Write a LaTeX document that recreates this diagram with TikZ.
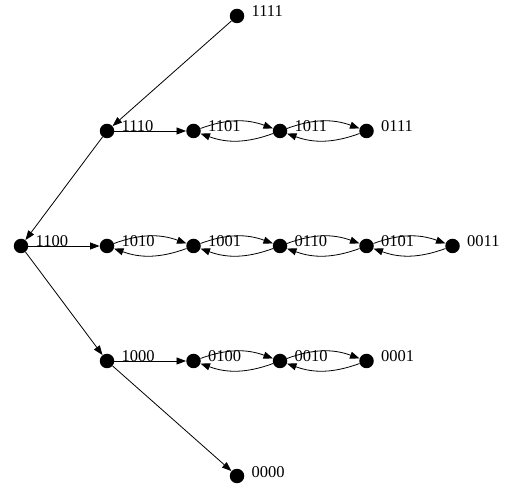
\documentclass[tikz,border=0pt]{standalone}
\usepackage{fontspec}
\setmainfont{Liberation Serif}
\usetikzlibrary{arrows.meta}
\begin{document}
\begin{tikzpicture}[x=1pt,y=1pt,
  st/.style={circle,fill=black,draw=none,minimum size=14.5pt,inner sep=0pt},
  lab/.style={anchor=base west,inner sep=0pt,font=\fontsize{16.5}{18}\selectfont},
  edge/.style={line width=0.8pt,-{Triangle[length=9.5pt,width=7pt]}},
  upc/.style={edge,bend left=20},
  loc/.style={edge,bend left=20}]
\useasboundingbox (0,0) rectangle (510,489);
\def\rA{473}\def\rB{358}\def\rC{243}\def\rD{128}\def\rE{13}
\node[st] (n1111) at (237,\rA) {};
\node[st] (n1110) at (107,\rB) {};
\node[st] (n1101) at (193.5,\rB) {};
\node[st] (n1011) at (280,\rB) {};
\node[st] (n0111) at (366.5,\rB) {};
\node[st] (n1100) at (21,\rC) {};
\node[st] (n1010) at (107,\rC) {};
\node[st] (n1001) at (193.5,\rC) {};
\node[st] (n0110) at (280,\rC) {};
\node[st] (n0101) at (366.5,\rC) {};
\node[st] (n0011) at (452.5,\rC) {};
\node[st] (n1000) at (107,\rD) {};
\node[st] (n0100) at (193.5,\rD) {};
\node[st] (n0010) at (280,\rD) {};
\node[st] (n0001) at (366.5,\rD) {};
\node[st] (n0000) at (237,\rE) {};
\foreach \n in {1111,1110,1101,1011,0111,1100,1010,1001,0110,0101,0011,1000,0100,0010,0001,0000}{
  \node[lab] (l\n) at ([xshift=14.5pt,yshift=-1pt]n\n.center) {\n};
}
\draw[edge] (n1111) -- (n1110);
\draw[edge] (n1110) -- (n1100);
\draw[edge] (n1100) -- (n1000);
\draw[edge] (n1000) -- (n0000);
\draw[edge] (n1110) -- (n1101);
\draw[edge] (n1100) -- (n1010);
\draw[edge] (n1000) -- (n0100);
\foreach \a/\b in {1101/1011,1011/0111,1010/1001,1001/0110,0110/0101,0101/0011,0100/0010,0010/0001}{
  \draw[upc] (n\a) to (n\b);
  \draw[loc] (n\b) to (n\a);
}
\end{tikzpicture}
\end{document}
